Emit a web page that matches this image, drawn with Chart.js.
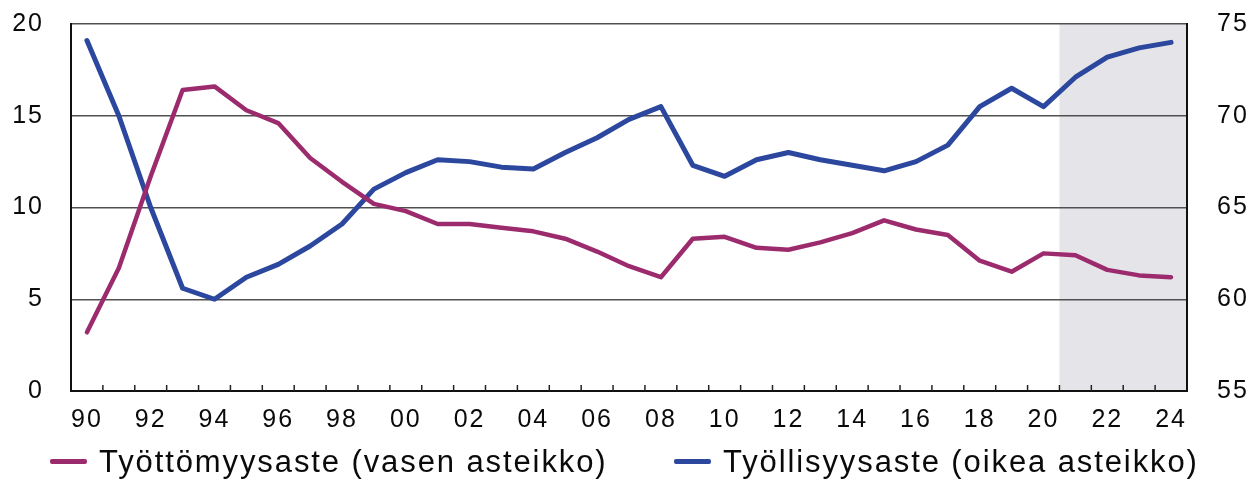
<!DOCTYPE html>
<html>
<head>
<meta charset="utf-8">
<script src="https://cdn.jsdelivr.net/npm/chart.js@4/dist/chart.umd.min.js"></script>
<style>
  html, body { margin: 0; padding: 0; background: #fff; }
  #wrap { position: relative; width: 1260px; height: 479px; overflow: hidden; }
  #c { position: absolute; left: 0; top: 0; }
  .leg { position: absolute; top: 444px; font-family: "Liberation Sans", Arial, sans-serif; font-size: 31px; color: #0a0a0a; letter-spacing: 1.9px; white-space: nowrap; line-height: 36px; }
  .sw { position: absolute; height: 5px; top: 459px; border-radius: 2px; }
</style>
</head>
<body>
<div id="wrap">
  <canvas id="c" width="1260" height="479"></canvas>
  <div class="sw" style="left:50px;width:37px;background:#9C2B6E"></div>
  <div class="leg" style="left:99px">Työttömyysaste (vasen asteikko)</div>
  <div class="sw" style="left:674px;width:37px;background:#2C479E"></div>
  <div class="leg" style="left:723px">Työllisyysaste (oikea asteikko)</div>
</div>
<script>
// ---- data ----
const years = ['90','91','92','93','94','95','96','97','98','99','00','01','02','03','04','05','06','07','08','09','10','11','12','13','14','15','16','17','18','19','20','21','22','23','24'];
const unemploymentRate = [3.2, 6.7, 11.7, 16.4, 16.6, 15.3, 14.6, 12.7, 11.4, 10.2, 9.8, 9.1, 9.1, 8.9, 8.7, 8.3, 7.6, 6.8, 6.2, 8.3, 8.4, 7.8, 7.7, 8.1, 8.6, 9.3, 8.8, 8.5, 7.1, 6.5, 7.5, 7.4, 6.6, 6.3, 6.2];
const employmentRate = [74.1, 70.0, 65.0, 60.6, 60.0, 61.2, 61.9, 62.9, 64.1, 66.0, 66.9, 67.6, 67.5, 67.2, 67.1, 68.0, 68.8, 69.8, 70.5, 67.3, 66.7, 67.6, 68.0, 67.6, 67.3, 67.0, 67.5, 68.4, 70.5, 71.5, 70.5, 72.1, 73.2, 73.7, 74.0];
const seriesNames = ['Työttömyysaste (vasen asteikko)', 'Työllisyysaste (oikea asteikko)'];
const forecastStartLabel = '21';

Chart.defaults.font.family = '"Liberation Sans", Arial, sans-serif';
Chart.defaults.color = '#111';

const shadePlugin = {
  id: 'shade',
  beforeDraw(chart) {
    const { ctx, chartArea, scales } = chart;
    const idx = years.indexOf(forecastStartLabel);
    const x0 = scales.x.getPixelForValue(idx - 0.5);
    ctx.save();
    ctx.fillStyle = '#e5e4e8';
    ctx.fillRect(x0, chartArea.top, chartArea.right - x0, chartArea.bottom - chartArea.top);
    ctx.restore();
    ctx.letterSpacing = '2px';
  },
  afterDraw(chart) {
    const { ctx, chartArea, scales } = chart;
    ctx.save();
    ctx.strokeStyle = '#222';
    ctx.lineWidth = 1.5;
    for (let i = 0; i < years.length - 1; i++) {
      const x = scales.x.getPixelForValue(i + 0.5);
      ctx.beginPath();
      ctx.moveTo(x, chartArea.bottom);
      ctx.lineTo(x, chartArea.bottom - 6);
      ctx.stroke();
    }
    ctx.restore();
  }
};

const fitVertical = w => s => { s.width = w; s.paddingTop = 0; s.paddingBottom = 0; };

new Chart(document.getElementById('c'), {
  type: 'line',
  data: {
    labels: years,
    datasets: [
      { label: seriesNames[0], data: unemploymentRate, yAxisID: 'y', borderColor: '#9C2B6E', borderWidth: 4.5, pointRadius: 0, tension: 0, borderCapStyle: 'round', borderJoinStyle: 'round' },
      { label: seriesNames[1], data: employmentRate, yAxisID: 'y2', borderColor: '#2C479E', borderWidth: 5, pointRadius: 0, tension: 0, borderCapStyle: 'round', borderJoinStyle: 'round' }
    ]
  },
  options: {
    responsive: false,
    animation: false,
    layout: { padding: { top: 24, right: 0, bottom: 0, left: 0 } },
    plugins: { legend: { display: false }, tooltip: { enabled: false } },
    scales: {
      x: {
        type: 'category',
        offset: true,
        grid: { offset: true, drawOnChartArea: false, drawTicks: false },
        border: { display: true, color: '#111', width: 2 },
        ticks: {
          autoSkip: false, maxRotation: 0, padding: 14, color: '#0a0a0a',
          font: { size: 25 },
          callback: (v, i) => (i % 2 === 0 ? years[i] : '')
        },
        afterFit: s => { s.height = 88; }
      },
      y: {
        position: 'left', min: 0, max: 20,
        ticks: { stepSize: 5, padding: 27, color: '#0a0a0a', font: { size: 25 } },
        grid: { drawTicks: false, color: c => (c.tick.value === 0 ? 'rgba(0,0,0,0)' : '#505050'), lineWidth: 1.5 },
        border: { display: true, color: '#111', width: 2 },
        afterFit: fitVertical(71)
      },
      y2: {
        position: 'right', min: 55, max: 75,
        ticks: { stepSize: 5, padding: 30, color: '#0a0a0a', font: { size: 25 } },
        grid: { drawOnChartArea: false, drawTicks: false },
        border: { display: true, color: '#111', width: 2 },
        afterFit: fitVertical(73)
      }
    }
  },
  plugins: [shadePlugin]
});
</script>
</body>
</html>
